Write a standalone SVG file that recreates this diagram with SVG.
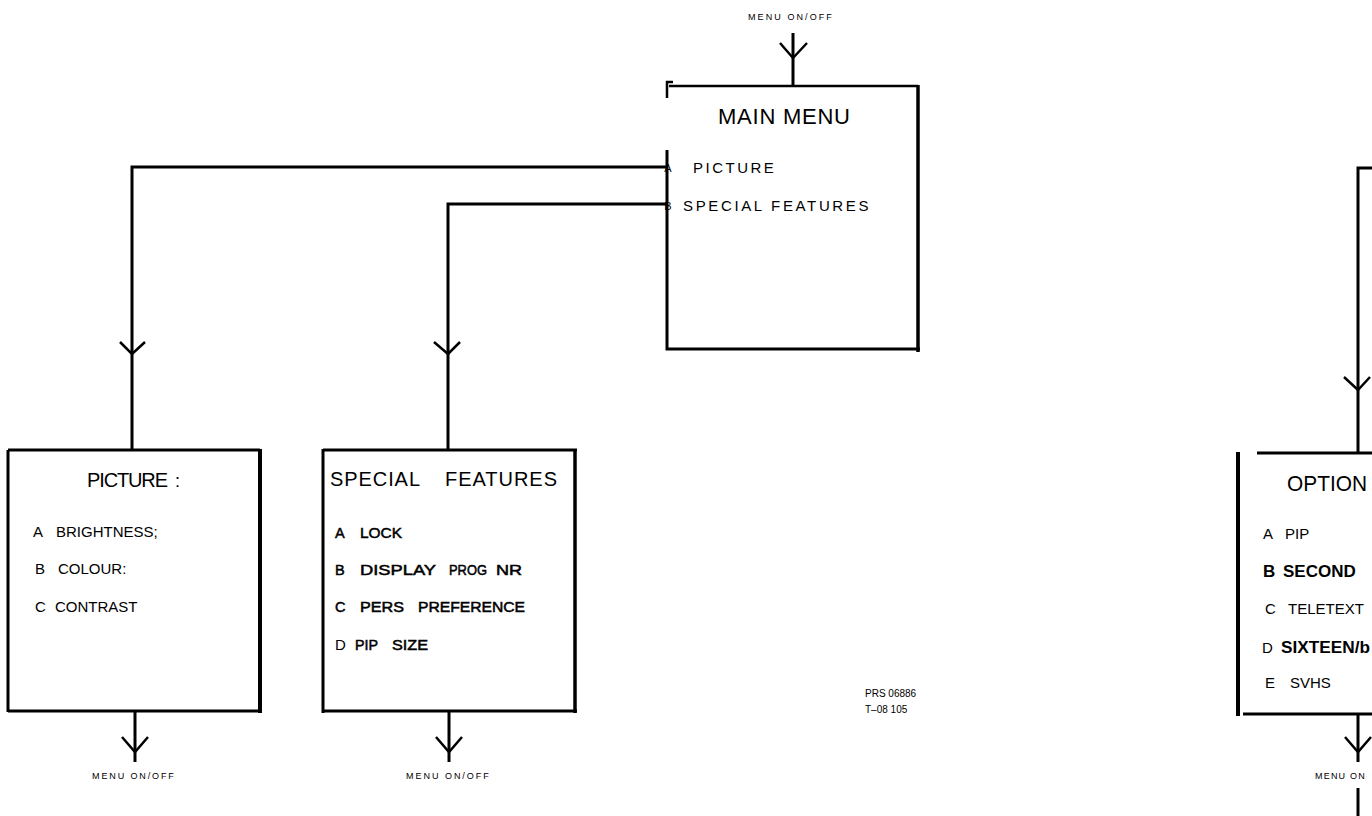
<svg xmlns="http://www.w3.org/2000/svg" width="1372" height="816" viewBox="0 0 1372 816">
<style>
text{font-family:"Liberation Sans",Arial,sans-serif;fill:#000}
.con{fill:none;stroke:#000;stroke-width:3}
.head{fill:none;stroke:#000;stroke-width:2.5;stroke-linejoin:miter}
.small{font-size:9px;letter-spacing:1.2px}
.title{font-size:20px}
.item{font-size:15px}
.semi{font-size:14.5px;stroke:#000;stroke-width:0.5}
.bold{font-size:17px;font-weight:bold}
.mm{font-size:15px;letter-spacing:2.5px}
</style>
<rect width="1372" height="816" fill="#fff"/>

<g id="connectors">
  <line class="con" x1="793" y1="33" x2="793" y2="86"/>
  <polyline class="head" points="780,43 793,58 807,43"/>
  <polyline class="con" points="667,167 132,167 132,450"/>
  <polyline class="head" points="120,342 132,354 145,342"/>
  <polyline class="con" points="667,204 448,204 448,450"/>
  <polyline class="head" points="434,342 448,354 460,342"/>
  <line class="con" x1="135" y1="711" x2="135" y2="762"/>
  <polyline class="head" points="122,737 135,752 148,737"/>
  <line class="con" x1="449" y1="711" x2="449" y2="762"/>
  <polyline class="head" points="436,737 449,752 462,737"/>
  <polyline class="con" points="1372,168 1358,168 1358,453"/>
  <polyline class="head" points="1344,377 1358,390 1370,377"/>
  <line class="con" x1="1358" y1="714" x2="1358" y2="762"/>
  <polyline class="head" points="1345,737 1358,752 1371,737"/>
  <line class="con" x1="1358" y1="788" x2="1358" y2="816" stroke-width="2"/>
</g>

<g id="label-top">
  <text class="small" x="748" y="20" textLength="85">MENU  ON/OFF</text>
</g>

<g id="node-main-menu">
  <polyline fill="none" stroke="#000" stroke-width="2.5" points="673,82 667,82 667,98"/>
  <line x1="669" y1="86" x2="918" y2="86" stroke="#000" stroke-width="2.5"/>
  <polyline fill="none" stroke="#000" stroke-width="3" points="667,150 667,349 920,349"/>
  <line x1="918" y1="85" x2="918" y2="352" stroke="#000" stroke-width="3.5"/>
  <text x="718" y="124" font-size="22" textLength="132">MAIN MENU</text>
  <text x="668" y="172" font-size="11" text-anchor="middle">A</text>
  <text class="mm" x="693" y="173">PICTURE</text>
  <text x="668" y="210" font-size="11" text-anchor="middle">B</text>
  <text class="mm" x="683" y="211" textLength="188">SPECIAL  FEATURES</text>
</g>

<g id="node-picture">
  <line x1="8" y1="450" x2="260" y2="450" stroke="#000" stroke-width="3"/>
  <line x1="8" y1="450" x2="8" y2="712" stroke="#000" stroke-width="3"/>
  <line x1="260" y1="449" x2="260" y2="713" stroke="#000" stroke-width="4"/>
  <line x1="8" y1="711" x2="262" y2="711" stroke="#000" stroke-width="3"/>
  <text class="title" x="87" y="487" textLength="81">PICTURE</text>
  <text x="175" y="487" font-size="18" fill="#555">:</text>
  <text class="item" y="537"><tspan x="33">A</tspan><tspan x="56">BRIGHTNESS;</tspan></text>
  <text class="item" y="574"><tspan x="35">B</tspan><tspan x="58">COLOUR:</tspan></text>
  <text class="item" y="612"><tspan x="35">C</tspan><tspan x="55">CONTRAST</tspan></text>
</g>
<g id="label-picture-out">
  <text class="small" x="92" y="779" textLength="83">MENU  ON/OFF</text>
</g>

<g id="node-special-features">
  <line x1="323" y1="450" x2="577" y2="450" stroke="#000" stroke-width="3"/>
  <line x1="323" y1="449" x2="323" y2="713" stroke="#000" stroke-width="3"/>
  <line x1="575" y1="449" x2="575" y2="713" stroke="#000" stroke-width="3.5"/>
  <line x1="322" y1="711" x2="577" y2="711" stroke="#000" stroke-width="3"/>
  <text class="title" x="330" y="486" textLength="90">SPECIAL</text>
  <text class="title" x="445" y="486" textLength="112">FEATURES</text>
  <text class="semi" x="335" y="538">A</text>
  <text class="semi" x="360" y="538" textLength="42" lengthAdjust="spacingAndGlyphs">LOCK</text>
  <text class="semi" x="335" y="575">B</text>
  <text class="semi" x="360" y="575" textLength="76" lengthAdjust="spacingAndGlyphs">DISPLAY</text>
  <text class="semi" x="449" y="575" textLength="38" lengthAdjust="spacingAndGlyphs">PROG</text>
  <text class="semi" x="496" y="575" textLength="26" lengthAdjust="spacingAndGlyphs">NR</text>
  <text class="semi" x="335" y="612">C</text>
  <text class="semi" x="360" y="612" textLength="44" lengthAdjust="spacingAndGlyphs">PERS</text>
  <text class="semi" x="418" y="612" textLength="107" lengthAdjust="spacingAndGlyphs">PREFERENCE</text>
  <text class="item" x="335" y="650">D</text>
  <text class="semi" x="355" y="650" textLength="23" lengthAdjust="spacingAndGlyphs">PIP</text>
  <text class="semi" x="392" y="650" textLength="36" lengthAdjust="spacingAndGlyphs">SIZE</text>
</g>
<g id="label-sf-out">
  <text class="small" x="406" y="779" textLength="84">MENU  ON/OFF</text>
</g>

<g id="label-ref">
  <text x="865" y="697" font-size="10">PRS 06886</text>
  <text x="865" y="713" font-size="10">T–08  105</text>
</g>

<g id="node-option">
  <line x1="1238" y1="452" x2="1238" y2="716" stroke="#000" stroke-width="4"/>
  <line x1="1257" y1="453" x2="1372" y2="453" stroke="#000" stroke-width="3"/>
  <line x1="1243" y1="714" x2="1372" y2="714" stroke="#000" stroke-width="3"/>
  <text x="1287" y="491" font-size="22" textLength="80" lengthAdjust="spacingAndGlyphs">OPTION</text>
  <text class="item" y="539"><tspan x="1263">A</tspan><tspan x="1285">PIP</tspan></text>
  <text class="bold" y="577"><tspan x="1263">B</tspan><tspan x="1283">SECOND</tspan></text>
  <text class="item" y="614"><tspan x="1265">C</tspan><tspan x="1288">TELETEXT</tspan></text>
  <text class="item" font-size="17" x="1262" y="653">D</text>
  <text class="bold" x="1281" y="653" textLength="89" lengthAdjust="spacingAndGlyphs">SIXTEEN/b</text>
  <text class="item" y="688"><tspan x="1265">E</tspan><tspan x="1290">SVHS</tspan></text>
</g>
<g id="label-option-out">
  <text class="small" x="1315" y="779">MENU  ON</text>
</g>
</svg>
